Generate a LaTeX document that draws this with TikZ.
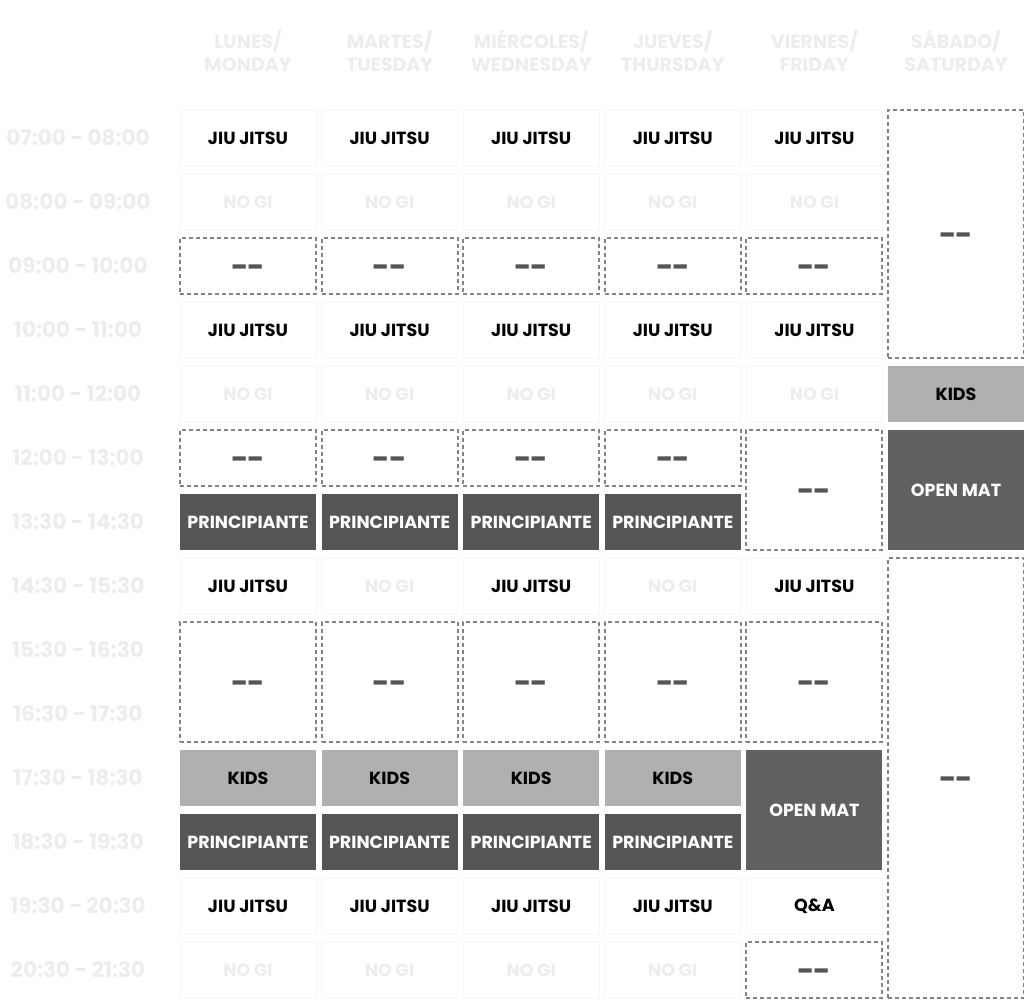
\documentclass[tikz,border=0pt]{standalone}
\usepackage{fontspec}
\setmainfont{Poppins}
\definecolor{dashgray}{HTML}{838383}
\definecolor{faintline}{HTML}{F6F6F6}
\definecolor{fainttext}{HTML}{EDEDED}
\definecolor{kidsgray}{HTML}{B0B0B0}
\definecolor{beginnergray}{HTML}{555555}
\definecolor{openmatgray}{HTML}{606060}
\definecolor{dashmark}{HTML}{555555}
\tikzset{
  cellbase/.style={rectangle, minimum width=136pt, inner sep=0pt,
    font=\bfseries\fontsize{17.5}{20}\selectfont},
  plaincell/.style={cellbase, draw=faintline, line width=1pt, text=black},
  nogicell/.style={cellbase, draw=faintline, line width=1pt, text=fainttext},
  emptycell/.style={cellbase, draw=dashgray, line width=2pt,
    dash pattern=on 4pt off 3pt, text=dashmark,
    font=\bfseries\fontsize{30}{32}\selectfont,
    text height=22pt, text depth=0pt},
  kidscell/.style={cellbase, fill=kidsgray, text=black},
  beginnercell/.style={cellbase, fill=beginnergray, text=white},
  openmatcell/.style={cellbase, fill=openmatgray, text=white},
  headtext/.style={align=center, text=fainttext, inner sep=0pt,
    font=\bfseries\fontsize{19}{22.5}\selectfont},
  timetext/.style={text=fainttext, inner sep=0pt,
    font=\bfseries\fontsize{21.5}{24}\selectfont},
}
\newcommand\cellslot[6]{%
  \node[#5, minimum height={(56+64*(#4-1))*1pt}] (#1)
    at ({248+141.6*(#2-1)},{138+64*(#3-1)+32*(#4-1)}) {#6};}
\newcommand\nada{-\kern-1.2pt-}
\begin{document}
\begin{tikzpicture}[x=1pt,y=-1pt]
\useasboundingbox[fill=white] (0,0) rectangle (1024,999);
% header
\node[headtext] (h1) at (248,51) {LUNES/\\MONDAY};
\node[headtext] (h2) at (389.6,51) {MARTES/\\TUESDAY};
\node[headtext] (h3) at (531.2,51) {MIÉRCOLES/\\WEDNESDAY};
\node[headtext] (h4) at (672.8,51) {JUEVES/\\THURSDAY};
\node[headtext] (h5) at (814.4,51) {VIERNES/\\FRIDAY};
\node[headtext] (h6) at (956,51) {SÁBADO/\\SATURDAY};
% times
\foreach \t [count=\i] in {07:00 - 08:00,08:00 - 09:00,09:00 - 10:00,10:00 - 11:00,11:00 - 12:00,12:00 - 13:00,13:30 - 14:30,14:30 - 15:30,15:30 - 16:30,16:30 - 17:30,17:30 - 18:30,18:30 - 19:30,19:30 - 20:30,20:30 - 21:30}
  \node[timetext] (t\i) at (78,{138+64*(\i-1)}) {\t};
% Monday to Thursday / Friday
\foreach \c in {1,...,5}{
  \cellslot{a\c}{\c}{1}{1}{plaincell}{JIU JITSU}
  \cellslot{b\c}{\c}{2}{1}{nogicell}{NO GI}
  \cellslot{c\c}{\c}{3}{1}{emptycell}{\nada}
  \cellslot{d\c}{\c}{4}{1}{plaincell}{JIU JITSU}
  \cellslot{e\c}{\c}{5}{1}{nogicell}{NO GI}
  \cellslot{i\c}{\c}{9}{2}{emptycell}{\nada}
}
\foreach \c in {1,...,4}{
  \cellslot{f\c}{\c}{6}{1}{emptycell}{\nada}
  \cellslot{g\c}{\c}{7}{1}{beginnercell}{PRINCIPIANTE}
  \cellslot{k\c}{\c}{11}{1}{kidscell}{KIDS}
  \cellslot{l\c}{\c}{12}{1}{beginnercell}{PRINCIPIANTE}
  \cellslot{m\c}{\c}{13}{1}{plaincell}{JIU JITSU}
  \cellslot{n\c}{\c}{14}{1}{nogicell}{NO GI}
}
\cellslot{h1}{1}{8}{1}{plaincell}{JIU JITSU}
\cellslot{h2}{2}{8}{1}{nogicell}{NO GI}
\cellslot{h3}{3}{8}{1}{plaincell}{JIU JITSU}
\cellslot{h4}{4}{8}{1}{nogicell}{NO GI}
\cellslot{h5}{5}{8}{1}{plaincell}{JIU JITSU}
\cellslot{f5}{5}{6}{2}{emptycell}{\nada}
\cellslot{k5}{5}{11}{2}{openmatcell}{OPEN MAT}
\cellslot{m5}{5}{13}{1}{plaincell}{Q\&A}
\cellslot{n5}{5}{14}{1}{emptycell}{\nada}
% Saturday
\cellslot{s1}{6}{1}{4}{emptycell}{\nada}
\cellslot{s2}{6}{5}{1}{kidscell}{KIDS}
\cellslot{s3}{6}{6}{2}{openmatcell}{OPEN MAT}
\cellslot{s4}{6}{8}{7}{emptycell}{\nada}
\end{tikzpicture}
\end{document}
